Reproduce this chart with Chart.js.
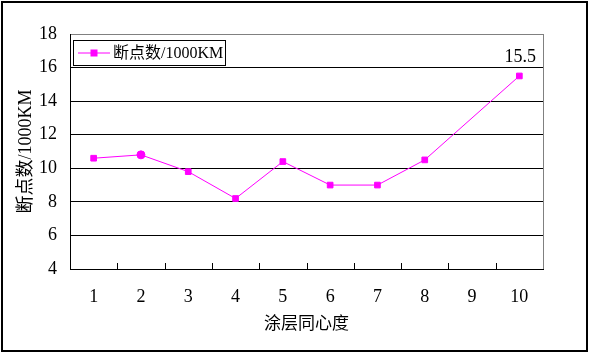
<!DOCTYPE html>
<html>
<head>
<meta charset="utf-8">
<script src="https://cdn.jsdelivr.net/npm/chart.js@4/dist/chart.umd.min.js"></script>
<style>
    html, body { margin: 0; padding: 0; background: #fff; }
    canvas { display: block; }
</style>
</head>
<body>
<canvas id="chart" width="590" height="353"></canvas>
<script>
// Chart data
const categories = ['1', '2', '3', '4', '5', '6', '7', '8', '9', '10'];
const breakPoints = [10.6, 10.8, 9.8, 8.2, 10.4, 9.0, 9.0, 10.5, null, 15.5];
const pointShapes = ['rect', 'circle', 'rect', 'rect', 'rect', 'rect', 'rect', 'rect', 'rect', 'rect'];
const seriesLabel = '断点数/1000KM';
const xTitle = '涂层同心度';
const yTitle = '断点数/1000KM';
const yMin = 4;
const yMax = 18;
const yStep = 2;
const labelIndex = 9; // point that carries the value label

const MAGENTA = '#ff00ff';
const FONT = "'Liberation Serif', 'Noto Sans CJK SC', serif";

// Extra drawing: frame, inner tick marks, right border, legend box, value label
const decorPlugin = {
    id: 'decor',
    beforeDraw(chart) {
        const ctx = chart.ctx;
        ctx.save();
        ctx.fillStyle = '#fff';
        ctx.fillRect(0, 0, chart.width, chart.height);
        ctx.strokeStyle = '#000';
        ctx.lineWidth = 2;
        ctx.strokeRect(2, 2, chart.width - 5, chart.height - 4);
        ctx.restore();
    },
    afterDatasetsDraw(chart) {
        const ctx = chart.ctx;
        const area = chart.chartArea;
        const x = chart.scales.x;
        ctx.save();

        // right border of plot in grey
        ctx.strokeStyle = '#808080';
        ctx.lineWidth = 1;
        ctx.beginPath();
        ctx.moveTo(Math.round(area.right) + 0.5, area.top);
        ctx.lineTo(Math.round(area.right) + 0.5, area.bottom);
        ctx.stroke();

        // short tick marks between categories, pointing up
        ctx.strokeStyle = '#000';
        for (let i = 1; i < categories.length; i++) {
            const px = Math.round((x.getPixelForValue(i - 1) + x.getPixelForValue(i)) / 2) + 0.5;
            ctx.beginPath();
            ctx.moveTo(px, area.bottom);
            ctx.lineTo(px, area.bottom - 6);
            ctx.stroke();
        }

        // legend box
        const lx = 73.5, ly = 40.5, lw = 152, lh = 25;
        ctx.fillStyle = '#fff';
        ctx.fillRect(lx, ly, lw, lh);
        ctx.strokeStyle = '#000';
        ctx.strokeRect(lx, ly, lw, lh);
        const my = ly + lh / 2;
        ctx.strokeStyle = MAGENTA;
        ctx.beginPath();
        ctx.moveTo(78, my);
        ctx.lineTo(110, my);
        ctx.stroke();
        ctx.fillStyle = MAGENTA;
        ctx.fillRect(90.5, my - 3.5, 7, 7);
        ctx.fillStyle = '#000';
        ctx.font = '16px ' + FONT;
        ctx.textAlign = 'left';
        ctx.textBaseline = 'middle';
        ctx.fillText(seriesLabel, 113, my + 1);

        // value label above the last point
        const pt = chart.getDatasetMeta(0).data[labelIndex];
        ctx.font = '18px ' + FONT;
        ctx.textAlign = 'center';
        ctx.fillText(breakPoints[labelIndex].toFixed(1), pt.x + 1, pt.y - 19);
        ctx.restore();
    }
};

const ctx = document.getElementById('chart').getContext('2d');
new Chart(ctx, {
    type: 'line',
    data: {
        labels: categories,
        datasets: [{
            label: seriesLabel,
            data: breakPoints,
            borderColor: MAGENTA,
            backgroundColor: MAGENTA,
            borderWidth: 1,
            pointStyle: pointShapes,
            pointRadius: 4,
            pointBorderWidth: 1,
            pointBackgroundColor: MAGENTA,
            pointBorderColor: MAGENTA,
            spanGaps: true,
            tension: 0,
            segment: {
                borderWidth: c => (c.p1DataIndex - c.p0DataIndex > 1 ? 2 : 1)
            }
        }]
    },
    options: {
        responsive: false,
        animation: false,
        layout: { padding: { top: 34, right: 47, left: 0, bottom: 0 } },
        plugins: {
            legend: { display: false },
            tooltip: { enabled: false }
        },
        scales: {
            x: {
                type: 'category',
                offset: true,
                grid: { display: false, drawTicks: false },
                border: { display: true, color: '#000', width: 1 },
                ticks: {
                    color: '#000',
                    padding: 17,
                    maxRotation: 0,
                    font: { family: FONT, size: 18 }
                },
                title: {
                    display: true,
                    text: xTitle,
                    color: '#000',
                    padding: { top: 0, bottom: 18 },
                    font: { family: FONT, size: 17 }
                },
                afterFit: (scale) => { scale.height = 84; }
            },
            y: {
                min: yMin,
                max: yMax,
                ticks: {
                    stepSize: yStep,
                    color: '#000',
                    padding: 13,
                    font: { family: FONT, size: 18 }
                },
                grid: {
                    drawTicks: false,
                    color: c => (c.tick.value === yMax ? '#808080' : '#000'),
                    lineWidth: 1
                },
                border: { display: true, color: '#000', width: 1 },
                title: {
                    display: true,
                    text: yTitle,
                    color: '#000',
                    padding: { top: 15, bottom: 0 },
                    font: { family: FONT, size: 18 }
                },
                afterFit: (scale) => { scale.width = 70; }
            }
        }
    },
    plugins: [decorPlugin]
});
</script>
</body>
</html>
